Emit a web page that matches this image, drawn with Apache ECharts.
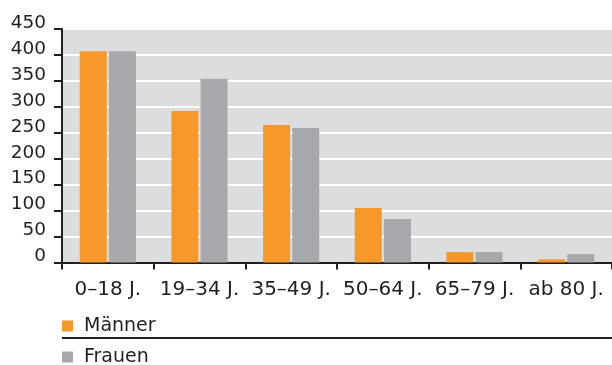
<!DOCTYPE html>
<html>
<head>
<meta charset="utf-8">
<style>
  html, body { margin: 0; padding: 0; background: #ffffff; }
  #chart { width: 612px; height: 365px; }
</style>
<script src="https://cdn.jsdelivr.net/npm/echarts@6/dist/echarts.min.js"></script>
</head>
<body>
<div id="chart"></div>
<script>
// Altersgruppen
const categories = ['0–18 J.', '19–34 J.', '35–49 J.', '50–64 J.', '65–79 J.', 'ab 80 J.'];
// Werte je Geschlecht
const maenner = [407, 292, 265, 105, 20, 6];
const frauen = [407, 354, 259, 84, 20, 16];
// Skala der y-Achse
const yMin = 0;
const yMax = 450;
const yStep = 50;

const dark = '#231f20';
const orange = '#f7982a';
const grey = '#a7a8ab';
const panel = '#dcdddf';

const legendText = {
  fontFamily: 'DejaVu Sans',
  fontSize: 19,
  color: dark,
  lineHeight: 20,
  padding: [0, 0, 0, 6]
};

function legendBlock(name, top) {
  return {
    orient: 'vertical',
    left: 62,
    top: top,
    padding: 0,
    icon: 'rect',
    itemWidth: 11,
    itemHeight: 11,
    selectedMode: false,
    textStyle: legendText,
    data: [name]
  };
}

const chart = echarts.init(document.getElementById('chart'), null, { renderer: 'canvas' });

chart.setOption({
  animation: false,
  backgroundColor: '#ffffff',
  textStyle: { fontFamily: 'DejaVu Sans', color: dark },
  grid: {
    left: 62,
    top: 29,
    width: 553,
    bottom: 102.5,
    show: true,
    backgroundColor: panel,
    borderWidth: 0,
    containLabel: false
  },
  legend: [legendBlock('Männer', 316), legendBlock('Frauen', 347)],
  graphic: [{
    type: 'line',
    shape: { x1: 62, y1: 338, x2: 612, y2: 338 },
    style: { stroke: dark, lineWidth: 2 }
  }],
  xAxis: {
    type: 'category',
    data: categories,
    boundaryGap: true,
    axisLine: { show: true, lineStyle: { color: dark, width: 2 } },
    axisTick: { show: true, length: 7, alignWithLabel: false, lineStyle: { color: dark, width: 2 } },
    axisLabel: {
      margin: 17,
      fontFamily: 'DejaVu Sans',
      fontSize: 20,
      color: dark,
      interval: 0
    },
    splitLine: { show: false }
  },
  yAxis: {
    type: 'value',
    min: yMin,
    max: yMax,
    interval: yStep,
    axisLine: { show: true, lineStyle: { color: dark, width: 2 } },
    axisTick: { show: true, length: 8, inside: false, lineStyle: { color: dark, width: 2 } },
    axisLabel: {
      margin: 16,
      fontFamily: 'DejaVu Sans',
      fontSize: 18.5,
      color: dark,
      verticalAlign: 'bottom',
      lineHeight: 12
    },
    splitLine: { show: true, lineStyle: { color: '#ffffff', width: 2 } }
  },
  series: [
    {
      name: 'Männer',
      type: 'bar',
      data: maenner,
      barWidth: 27,
      barGap: '8%',
      itemStyle: { color: orange }
    },
    {
      name: 'Frauen',
      type: 'bar',
      data: frauen,
      barWidth: 27,
      barGap: '8%',
      itemStyle: { color: grey }
    }
  ]
});
</script>
</body>
</html>
